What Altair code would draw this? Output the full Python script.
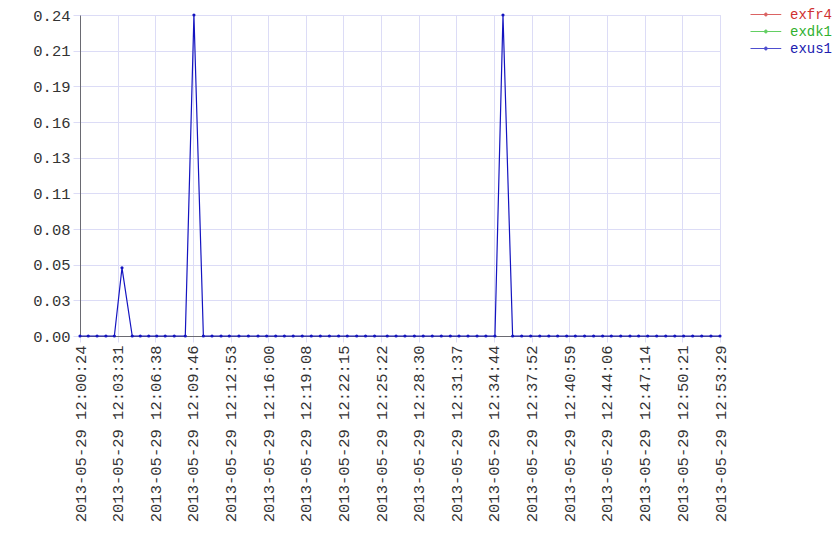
import altair as alt
import pandas as pd
from datetime import datetime

# ---- data ----
series_names = ["exfr4", "exdk1", "exus1"]
series_colors = ["#d03030", "#30c030", "#1414c0"]

times = [
    "2013-05-29 12:00:24", "2013-05-29 12:01:05", "2013-05-29 12:01:49", "2013-05-29 12:02:33",
    "2013-05-29 12:03:15", "2013-05-29 12:03:53", "2013-05-29 12:04:44", "2013-05-29 12:05:24",
    "2013-05-29 12:06:06", "2013-05-29 12:06:46", "2013-05-29 12:07:28", "2013-05-29 12:08:13",
    "2013-05-29 12:09:08", "2013-05-29 12:09:51", "2013-05-29 12:10:38", "2013-05-29 12:11:21",
    "2013-05-29 12:12:06", "2013-05-29 12:12:47", "2013-05-29 12:13:35", "2013-05-29 12:14:22",
    "2013-05-29 12:15:10", "2013-05-29 12:15:53", "2013-05-29 12:16:38", "2013-05-29 12:17:21",
    "2013-05-29 12:18:05", "2013-05-29 12:18:50", "2013-05-29 12:19:35", "2013-05-29 12:20:20",
    "2013-05-29 12:21:05", "2013-05-29 12:21:51", "2013-05-29 12:22:34", "2013-05-29 12:23:21",
    "2013-05-29 12:24:05", "2013-05-29 12:24:50", "2013-05-29 12:25:53", "2013-05-29 12:26:37",
    "2013-05-29 12:27:21", "2013-05-29 12:28:08", "2013-05-29 12:28:52", "2013-05-29 12:29:37",
    "2013-05-29 12:30:22", "2013-05-29 12:31:07", "2013-05-29 12:31:50", "2013-05-29 12:32:35",
    "2013-05-29 12:33:20", "2013-05-29 12:34:04", "2013-05-29 12:34:49", "2013-05-29 12:35:29",
    "2013-05-29 12:36:17", "2013-05-29 12:37:02", "2013-05-29 12:37:47", "2013-05-29 12:38:32",
    "2013-05-29 12:39:17", "2013-05-29 12:40:01", "2013-05-29 12:40:46", "2013-05-29 12:41:29",
    "2013-05-29 12:42:15", "2013-05-29 12:43:00", "2013-05-29 12:43:45", "2013-05-29 12:44:28",
    "2013-05-29 12:45:15", "2013-05-29 12:46:01", "2013-05-29 12:46:44", "2013-05-29 12:47:29",
    "2013-05-29 12:48:14", "2013-05-29 12:48:59", "2013-05-29 12:49:44", "2013-05-29 12:50:28",
    "2013-05-29 12:51:13", "2013-05-29 12:51:58", "2013-05-29 12:52:44", "2013-05-29 12:53:29",
]

exus1 = [
    0, 0, 0, 0, 0, 0.051, 0, 0, 0, 0, 0, 0,
    0, 0.24, 0, 0, 0, 0, 0, 0, 0, 0, 0, 0,
    0, 0, 0, 0, 0, 0, 0, 0, 0, 0, 0, 0,
    0, 0, 0, 0, 0, 0, 0, 0, 0, 0, 0, 0.24,
    0, 0, 0, 0, 0, 0, 0, 0, 0, 0, 0, 0,
    0, 0, 0, 0, 0, 0, 0, 0, 0, 0, 0, 0,
]

x_tick_labels = [
    "2013-05-29 12:00:24", "2013-05-29 12:03:31", "2013-05-29 12:06:38", "2013-05-29 12:09:46",
    "2013-05-29 12:12:53", "2013-05-29 12:16:00", "2013-05-29 12:19:08", "2013-05-29 12:22:15",
    "2013-05-29 12:25:22", "2013-05-29 12:28:30", "2013-05-29 12:31:37", "2013-05-29 12:34:44",
    "2013-05-29 12:37:52", "2013-05-29 12:40:59", "2013-05-29 12:44:06", "2013-05-29 12:47:14",
    "2013-05-29 12:50:21", "2013-05-29 12:53:29",
]
y_tick_values = [0, 0.0267, 0.0533, 0.08, 0.1067, 0.1333, 0.16, 0.1867, 0.2133, 0.24]

FONT = "Liberation Mono"
FONT_SIZE = 15.5
GRID = "#dcdcf6"
AXIS = "#6a6a72"


def dt(s):
    d = datetime.strptime(s, "%Y-%m-%d %H:%M:%S")
    return alt.DateTime(year=d.year, month=d.month, date=d.day,
                        hours=d.hour, minutes=d.minute, seconds=d.second)


df = pd.DataFrame({"time": times, "value": exus1, "series": "exus1"})

# line segment with a dot in its middle, drawn to the right of the symbol box
symbol_path = "M-1,0H3.1M1.25,0A0.2,0.2 0 1,1 0.85,0A0.2,0.2 0 1,1 1.25,0Z"

label_color_expr = (
    "datum.label == 'exfr4' ? '#d03030' : "
    "(datum.label == 'exdk1' ? '#30b030' : '#2020b0')"
)

chart = alt.Chart(df).mark_line(
    strokeWidth=1.2,
    point=alt.OverlayMarkDef(size=10, filled=True, opacity=1),
).encode(
    x=alt.X(
        "time:T",
        scale=alt.Scale(domain=[dt(times[0]), dt(times[-1])], nice=False),
        axis=alt.Axis(
            title=None,
            values=[dt(s) for s in x_tick_labels],
            format="%Y-%m-%d %H:%M:%S",
            labelAngle=270,
            labelFont=FONT,
            labelFontSize=FONT_SIZE,
            labelColor="#333333",
            labelPadding=3,
            tickColor=GRID,
            tickSize=6,
            gridColor=GRID,
            domainColor=AXIS,
            labelOverlap=False,
            labelFlush=False,
        ),
    ),
    y=alt.Y(
        "value:Q",
        scale=alt.Scale(domain=[0, 0.24], nice=False),
        axis=alt.Axis(
            title=None,
            values=y_tick_values,
            format=".2f",
            labelFont=FONT,
            labelFontSize=FONT_SIZE,
            labelColor="#333333",
            labelPadding=3,
            tickColor=GRID,
            tickSize=7,
            gridColor=GRID,
            domainColor=AXIS,
            labelOverlap=False,
            labelFlush=False,
        ),
    ),
    color=alt.Color(
        "series:N",
        scale=alt.Scale(domain=series_names, range=series_colors),
        legend=alt.Legend(
            title=None,
            orient="none",
            legendX=670,
            legendY=-8.5,
            symbolType=symbol_path,
            symbolSize=225,
            symbolStrokeWidth=1,
            symbolOpacity=0.75,
            labelFont=FONT,
            labelFontSize=14,
            labelOffset=24,
            labelColor={"expr": label_color_expr},
            rowPadding=2,
        ),
    ),
).properties(
    width=640,
    height=321,
    autosize=alt.AutoSizeParams(type="none"),
    padding={"left": 72, "top": 7, "right": 112, "bottom": 217},
).configure_view(
    stroke=None,
).configure(
    background="white",
)

chart.save("out.html", embed_options={"renderer": "svg", "actions": False})
